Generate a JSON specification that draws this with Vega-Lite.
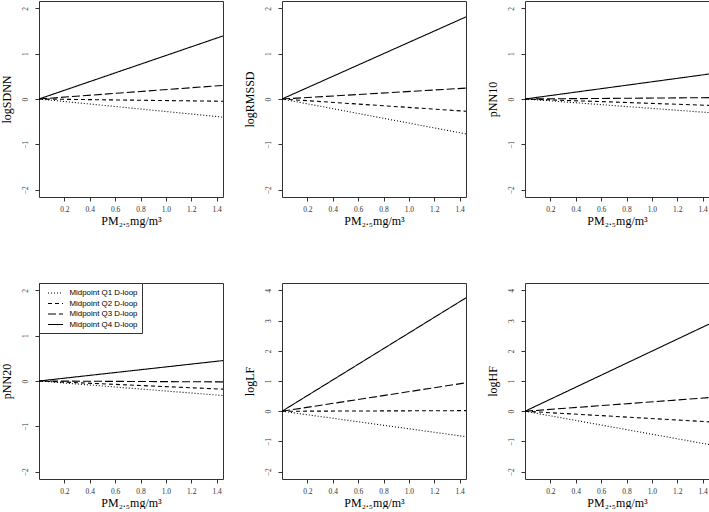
{
  "$schema": "https://vega.github.io/schema/vega-lite/v6.json",
  "padding": {"left": -1, "top": 0, "right": 0, "bottom": 0},
  "background": "white",
  "datasets": {
    "lines": [
      {"outcome": "logSDNN", "group": "Midpoint Q1 D-loop", "x": 0, "y": 0},
      {"outcome": "logSDNN", "group": "Midpoint Q1 D-loop", "x": 1.45, "y": -0.4},
      {"outcome": "logSDNN", "group": "Midpoint Q2 D-loop", "x": 0, "y": 0},
      {"outcome": "logSDNN", "group": "Midpoint Q2 D-loop", "x": 1.45, "y": -0.05},
      {"outcome": "logSDNN", "group": "Midpoint Q3 D-loop", "x": 0, "y": 0},
      {"outcome": "logSDNN", "group": "Midpoint Q3 D-loop", "x": 1.45, "y": 0.3},
      {"outcome": "logSDNN", "group": "Midpoint Q4 D-loop", "x": 0, "y": 0},
      {"outcome": "logSDNN", "group": "Midpoint Q4 D-loop", "x": 1.45, "y": 1.39},
      {"outcome": "logRMSSD", "group": "Midpoint Q1 D-loop", "x": 0, "y": 0},
      {"outcome": "logRMSSD", "group": "Midpoint Q1 D-loop", "x": 1.45, "y": -0.77},
      {"outcome": "logRMSSD", "group": "Midpoint Q2 D-loop", "x": 0, "y": 0},
      {"outcome": "logRMSSD", "group": "Midpoint Q2 D-loop", "x": 1.45, "y": -0.27},
      {"outcome": "logRMSSD", "group": "Midpoint Q3 D-loop", "x": 0, "y": 0},
      {"outcome": "logRMSSD", "group": "Midpoint Q3 D-loop", "x": 1.45, "y": 0.24},
      {"outcome": "logRMSSD", "group": "Midpoint Q4 D-loop", "x": 0, "y": 0},
      {"outcome": "logRMSSD", "group": "Midpoint Q4 D-loop", "x": 1.45, "y": 1.81},
      {"outcome": "pNN10", "group": "Midpoint Q1 D-loop", "x": 0, "y": 0},
      {"outcome": "pNN10", "group": "Midpoint Q1 D-loop", "x": 1.45, "y": -0.3},
      {"outcome": "pNN10", "group": "Midpoint Q2 D-loop", "x": 0, "y": 0},
      {"outcome": "pNN10", "group": "Midpoint Q2 D-loop", "x": 1.45, "y": -0.14},
      {"outcome": "pNN10", "group": "Midpoint Q3 D-loop", "x": 0, "y": 0},
      {"outcome": "pNN10", "group": "Midpoint Q3 D-loop", "x": 1.45, "y": 0.03},
      {"outcome": "pNN10", "group": "Midpoint Q4 D-loop", "x": 0, "y": 0},
      {"outcome": "pNN10", "group": "Midpoint Q4 D-loop", "x": 1.45, "y": 0.55},
      {"outcome": "pNN20", "group": "Midpoint Q1 D-loop", "x": 0, "y": 0},
      {"outcome": "pNN20", "group": "Midpoint Q1 D-loop", "x": 1.45, "y": -0.32},
      {"outcome": "pNN20", "group": "Midpoint Q2 D-loop", "x": 0, "y": 0},
      {"outcome": "pNN20", "group": "Midpoint Q2 D-loop", "x": 1.45, "y": -0.18},
      {"outcome": "pNN20", "group": "Midpoint Q3 D-loop", "x": 0, "y": 0},
      {"outcome": "pNN20", "group": "Midpoint Q3 D-loop", "x": 1.45, "y": -0.02},
      {"outcome": "pNN20", "group": "Midpoint Q4 D-loop", "x": 0, "y": 0},
      {"outcome": "pNN20", "group": "Midpoint Q4 D-loop", "x": 1.45, "y": 0.45},
      {"outcome": "logLF", "group": "Midpoint Q1 D-loop", "x": 0, "y": 0},
      {"outcome": "logLF", "group": "Midpoint Q1 D-loop", "x": 1.45, "y": -0.84},
      {"outcome": "logLF", "group": "Midpoint Q2 D-loop", "x": 0, "y": 0},
      {"outcome": "logLF", "group": "Midpoint Q2 D-loop", "x": 1.45, "y": 0.02},
      {"outcome": "logLF", "group": "Midpoint Q3 D-loop", "x": 0, "y": 0},
      {"outcome": "logLF", "group": "Midpoint Q3 D-loop", "x": 1.45, "y": 0.94},
      {"outcome": "logLF", "group": "Midpoint Q4 D-loop", "x": 0, "y": 0},
      {"outcome": "logLF", "group": "Midpoint Q4 D-loop", "x": 1.45, "y": 3.75},
      {"outcome": "logHF", "group": "Midpoint Q1 D-loop", "x": 0, "y": 0},
      {"outcome": "logHF", "group": "Midpoint Q1 D-loop", "x": 1.45, "y": -1.1},
      {"outcome": "logHF", "group": "Midpoint Q2 D-loop", "x": 0, "y": 0},
      {"outcome": "logHF", "group": "Midpoint Q2 D-loop", "x": 1.45, "y": -0.35},
      {"outcome": "logHF", "group": "Midpoint Q3 D-loop", "x": 0, "y": 0},
      {"outcome": "logHF", "group": "Midpoint Q3 D-loop", "x": 1.45, "y": 0.45},
      {"outcome": "logHF", "group": "Midpoint Q4 D-loop", "x": 0, "y": 0},
      {"outcome": "logHF", "group": "Midpoint Q4 D-loop", "x": 1.45, "y": 2.88}
    ]
  },
  "columns": 3,
  "spacing": {"row": 86, "column": 59},
  "bounds": "flush",
  "resolve": {"legend": {"strokeDash": "independent"}, "scale": {"y": "independent", "x": "independent"}},
  "concat": [
    {
      "width": 184, "height": 196,
      "data": {"name": "lines"},
      "transform": [{"filter": "datum.outcome === 'logSDNN'"}],
      "mark": {"type": "line", "color": "black", "strokeWidth": 1.1, "clip": true},
      "encoding": {
        "x": {"field": "x", "type": "quantitative", "scale": {"domain": [0, 1.45], "nice": false, "zero": false}, "axis": {"title": "PM₂.₅mg/m³", "values": [0.2, 0.4, 0.6, 0.8, 1.0, 1.2, 1.4], "format": ".1f"}},
        "y": {"field": "y", "type": "quantitative", "scale": {"domain": [-2.16, 2.16], "nice": false, "zero": false}, "axis": {"title": "logSDNN", "values": [-2, -1, 0, 1, 2]}},
        "strokeDash": {"field": "group", "type": "nominal", "scale": {"domain": ["Midpoint Q1 D-loop", "Midpoint Q2 D-loop", "Midpoint Q3 D-loop", "Midpoint Q4 D-loop"], "range": [[1, 2], [4, 3], [8, 3], [1, 0]]}, "legend": null}
      }
    },
    {
      "width": 184, "height": 196,
      "data": {"name": "lines"},
      "transform": [{"filter": "datum.outcome === 'logRMSSD'"}],
      "mark": {"type": "line", "color": "black", "strokeWidth": 1.1, "clip": true},
      "encoding": {
        "x": {"field": "x", "type": "quantitative", "scale": {"domain": [0, 1.45], "nice": false, "zero": false}, "axis": {"title": "PM₂.₅mg/m³", "values": [0.2, 0.4, 0.6, 0.8, 1.0, 1.2, 1.4], "format": ".1f"}},
        "y": {"field": "y", "type": "quantitative", "scale": {"domain": [-2.16, 2.16], "nice": false, "zero": false}, "axis": {"title": "logRMSSD", "values": [-2, -1, 0, 1, 2]}},
        "strokeDash": {"field": "group", "type": "nominal", "scale": {"domain": ["Midpoint Q1 D-loop", "Midpoint Q2 D-loop", "Midpoint Q3 D-loop", "Midpoint Q4 D-loop"], "range": [[1, 2], [4, 3], [8, 3], [1, 0]]}, "legend": null}
      }
    },
    {
      "width": 184, "height": 196,
      "data": {"name": "lines"},
      "transform": [{"filter": "datum.outcome === 'pNN10'"}],
      "mark": {"type": "line", "color": "black", "strokeWidth": 1.1, "clip": true},
      "encoding": {
        "x": {"field": "x", "type": "quantitative", "scale": {"domain": [0, 1.45], "nice": false, "zero": false}, "axis": {"title": "PM₂.₅mg/m³", "values": [0.2, 0.4, 0.6, 0.8, 1.0, 1.2, 1.4], "format": ".1f"}},
        "y": {"field": "y", "type": "quantitative", "scale": {"domain": [-2.16, 2.16], "nice": false, "zero": false}, "axis": {"title": "pNN10", "values": [-2, -1, 0, 1, 2]}},
        "strokeDash": {"field": "group", "type": "nominal", "scale": {"domain": ["Midpoint Q1 D-loop", "Midpoint Q2 D-loop", "Midpoint Q3 D-loop", "Midpoint Q4 D-loop"], "range": [[1, 2], [4, 3], [8, 3], [1, 0]]}, "legend": null}
      }
    },
    {
      "width": 184, "height": 196,
      "data": {"name": "lines"},
      "transform": [{"filter": "datum.outcome === 'pNN20'"}],
      "mark": {"type": "line", "color": "black", "strokeWidth": 1.1, "clip": true},
      "encoding": {
        "x": {"field": "x", "type": "quantitative", "scale": {"domain": [0, 1.45], "nice": false, "zero": false}, "axis": {"title": "PM₂.₅mg/m³", "values": [0.2, 0.4, 0.6, 0.8, 1.0, 1.2, 1.4], "format": ".1f"}},
        "y": {"field": "y", "type": "quantitative", "scale": {"domain": [-2.16, 2.16], "nice": false, "zero": false}, "axis": {"title": "pNN20", "values": [-2, -1, 0, 1, 2]}},
        "strokeDash": {"field": "group", "type": "nominal", "scale": {"domain": ["Midpoint Q1 D-loop", "Midpoint Q2 D-loop", "Midpoint Q3 D-loop", "Midpoint Q4 D-loop"], "range": [[1, 2], [4, 3], [8, 3], [1, 0]]},
          "legend": {"title": null, "orient": "top-left", "offset": 0, "strokeColor": "#333", "fillColor": "white", "padding": 4.5, "symbolType": "M-0.2,0H2.8", "symbolSize": 100, "symbolStrokeWidth": 1, "symbolStrokeColor": "black", "labelFont": "Liberation Sans", "labelFontSize": 7.9, "labelColor": "black", "rowPadding": 0.5, "labelOffset": 15}}
      }
    },
    {
      "width": 184, "height": 196,
      "data": {"name": "lines"},
      "transform": [{"filter": "datum.outcome === 'logLF'"}],
      "mark": {"type": "line", "color": "black", "strokeWidth": 1.1, "clip": true},
      "encoding": {
        "x": {"field": "x", "type": "quantitative", "scale": {"domain": [0, 1.45], "nice": false, "zero": false}, "axis": {"title": "PM₂.₅mg/m³", "values": [0.2, 0.4, 0.6, 0.8, 1.0, 1.2, 1.4], "format": ".1f"}},
        "y": {"field": "y", "type": "quantitative", "scale": {"domain": [-2.24, 4.24], "nice": false, "zero": false}, "axis": {"title": "logLF", "values": [-2, -1, 0, 1, 2, 3, 4]}},
        "strokeDash": {"field": "group", "type": "nominal", "scale": {"domain": ["Midpoint Q1 D-loop", "Midpoint Q2 D-loop", "Midpoint Q3 D-loop", "Midpoint Q4 D-loop"], "range": [[1, 2], [4, 3], [8, 3], [1, 0]]}, "legend": null}
      }
    },
    {
      "width": 184, "height": 196,
      "data": {"name": "lines"},
      "transform": [{"filter": "datum.outcome === 'logHF'"}],
      "mark": {"type": "line", "color": "black", "strokeWidth": 1.1, "clip": true},
      "encoding": {
        "x": {"field": "x", "type": "quantitative", "scale": {"domain": [0, 1.45], "nice": false, "zero": false}, "axis": {"title": "PM₂.₅mg/m³", "values": [0.2, 0.4, 0.6, 0.8, 1.0, 1.2, 1.4], "format": ".1f"}},
        "y": {"field": "y", "type": "quantitative", "scale": {"domain": [-2.24, 4.24], "nice": false, "zero": false}, "axis": {"title": "logHF", "values": [-2, -1, 0, 1, 2, 3, 4]}},
        "strokeDash": {"field": "group", "type": "nominal", "scale": {"domain": ["Midpoint Q1 D-loop", "Midpoint Q2 D-loop", "Midpoint Q3 D-loop", "Midpoint Q4 D-loop"], "range": [[1, 2], [4, 3], [8, 3], [1, 0]]}, "legend": null}
      }
    }
  ],
  "config": {
    "view": {"stroke": "#333", "strokeWidth": 1},
    "axis": {
      "grid": false, "domain": false,
      "tickSize": 4, "tickColor": "#333", "tickWidth": 1,
      "labelFont": "Liberation Serif", "labelFontSize": 7.5, "labelColor": "#333",
      "titleFont": "Liberation Serif", "titleFontSize": 12, "titleFontWeight": "normal", "titleColor": "black"
    },
    "axisX": {"labelPadding": 4, "titlePadding": 3},
    "axisY": {"labelAngle": 270, "labelAlign": "center", "labelBaseline": "bottom", "labelPadding": 6, "titlePadding": 8}
  }
}
